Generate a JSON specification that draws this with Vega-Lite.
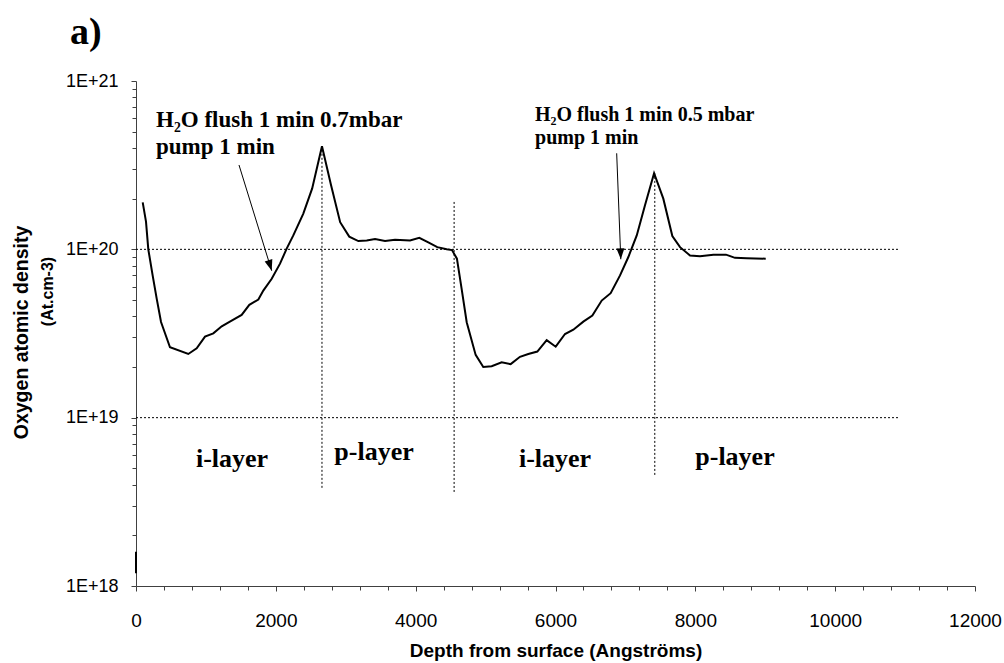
{
  "$schema": "https://vega.github.io/schema/vega-lite/v6.json",
  "width": 839,
  "height": 505,
  "autosize": {"type": "none"},
  "padding": {"left": 136, "top": 81, "right": 29, "bottom": 77},
  "background": "white",
  "config": {"view": {"stroke": null}, "font": "Liberation Sans"},
  "datasets": {
    "curve": [
      {"depth": 0, "density": 1.19e18, "series": "surface"},
      {"depth": 0, "density": 1.6e18, "series": "surface"},
      {"depth": 96, "density": 1.9e20, "series": "profile"},
      {"depth": 143, "density": 1.46e20, "series": "profile"},
      {"depth": 176, "density": 1.0e20, "series": "profile"},
      {"depth": 238, "density": 7.0e19, "series": "profile"},
      {"depth": 296, "density": 5.1e19, "series": "profile"},
      {"depth": 358, "density": 3.7e19, "series": "profile"},
      {"depth": 486, "density": 2.62e19, "series": "profile"},
      {"depth": 748, "density": 2.39e19, "series": "profile"},
      {"depth": 868, "density": 2.58e19, "series": "profile"},
      {"depth": 987, "density": 3.03e19, "series": "profile"},
      {"depth": 1106, "density": 3.17e19, "series": "profile"},
      {"depth": 1226, "density": 3.49e19, "series": "profile"},
      {"depth": 1368, "density": 3.77e19, "series": "profile"},
      {"depth": 1511, "density": 4.08e19, "series": "profile"},
      {"depth": 1621, "density": 4.68e19, "series": "profile"},
      {"depth": 1750, "density": 5.03e19, "series": "profile"},
      {"depth": 1821, "density": 5.69e19, "series": "profile"},
      {"depth": 1941, "density": 6.68e19, "series": "profile"},
      {"depth": 2060, "density": 8.22e19, "series": "profile"},
      {"depth": 2155, "density": 1.01e20, "series": "profile"},
      {"depth": 2250, "density": 1.21e20, "series": "profile"},
      {"depth": 2393, "density": 1.63e20, "series": "profile"},
      {"depth": 2520, "density": 2.3e20, "series": "profile"},
      {"depth": 2660, "density": 4.1e20, "series": "profile"},
      {"depth": 2790, "density": 2.4e20, "series": "profile"},
      {"depth": 2920, "density": 1.45e20, "series": "profile"},
      {"depth": 3050, "density": 1.19e20, "series": "profile"},
      {"depth": 3180, "density": 1.12e20, "series": "profile"},
      {"depth": 3300, "density": 1.13e20, "series": "profile"},
      {"depth": 3419, "density": 1.15e20, "series": "profile"},
      {"depth": 3562, "density": 1.12e20, "series": "profile"},
      {"depth": 3705, "density": 1.14e20, "series": "profile"},
      {"depth": 3919, "density": 1.13e20, "series": "profile"},
      {"depth": 4052, "density": 1.17e20, "series": "profile"},
      {"depth": 4181, "density": 1.1e20, "series": "profile"},
      {"depth": 4309, "density": 1.03e20, "series": "profile"},
      {"depth": 4444, "density": 1.0e20, "series": "profile"},
      {"depth": 4520, "density": 9.9e19, "series": "profile"},
      {"depth": 4590, "density": 8.8e19, "series": "profile"},
      {"depth": 4658, "density": 5.8e19, "series": "profile"},
      {"depth": 4730, "density": 3.69e19, "series": "profile"},
      {"depth": 4858, "density": 2.36e19, "series": "profile"},
      {"depth": 4967, "density": 2.0e19, "series": "profile"},
      {"depth": 5087, "density": 2.02e19, "series": "profile"},
      {"depth": 5230, "density": 2.13e19, "series": "profile"},
      {"depth": 5359, "density": 2.08e19, "series": "profile"},
      {"depth": 5492, "density": 2.3e19, "series": "profile"},
      {"depth": 5611, "density": 2.39e19, "series": "profile"},
      {"depth": 5740, "density": 2.47e19, "series": "profile"},
      {"depth": 5874, "density": 2.89e19, "series": "profile"},
      {"depth": 6003, "density": 2.64e19, "series": "profile"},
      {"depth": 6136, "density": 3.14e19, "series": "profile"},
      {"depth": 6255, "density": 3.33e19, "series": "profile"},
      {"depth": 6398, "density": 3.72e19, "series": "profile"},
      {"depth": 6527, "density": 4.04e19, "series": "profile"},
      {"depth": 6661, "density": 4.96e19, "series": "profile"},
      {"depth": 6789, "density": 5.49e19, "series": "profile"},
      {"depth": 6923, "density": 7.0e19, "series": "profile"},
      {"depth": 7042, "density": 9.0e19, "series": "profile"},
      {"depth": 7162, "density": 1.21e20, "series": "profile"},
      {"depth": 7280, "density": 1.83e20, "series": "profile"},
      {"depth": 7410, "density": 2.83e20, "series": "profile"},
      {"depth": 7542, "density": 2.0e20, "series": "profile"},
      {"depth": 7671, "density": 1.2e20, "series": "profile"},
      {"depth": 7781, "density": 1.03e20, "series": "profile"},
      {"depth": 7924, "density": 9.2e19, "series": "profile"},
      {"depth": 8067, "density": 9.1e19, "series": "profile"},
      {"depth": 8258, "density": 9.3e19, "series": "profile"},
      {"depth": 8438, "density": 9.3e19, "series": "profile"},
      {"depth": 8567, "density": 8.9e19, "series": "profile"},
      {"depth": 8734, "density": 8.85e19, "series": "profile"},
      {"depth": 9007, "density": 8.8e19, "series": "profile"}
    ],
    "hlines": [
      {"depth": 0, "depth2": 10900, "density": 1e20},
      {"depth": 0, "depth2": 10900, "density": 1e19}
    ],
    "vlines": [
      {"depth": 2660, "density": 3.83e18, "density2": 4.1e20},
      {"depth": 4550, "density": 3.62e18, "density2": 1.92e20},
      {"depth": 7420, "density": 4.57e18, "density2": 2.83e20}
    ],
    "layerlabels": [
      {"depth": 1373, "density": 5.09e18, "label": "i-layer"},
      {"depth": 3404, "density": 5.61e18, "label": "p-layer"},
      {"depth": 5993, "density": 5.09e18, "label": "i-layer"},
      {"depth": 8567, "density": 5.24e18, "label": "p-layer"}
    ],
    "panel": [
      {"depth": -944, "density": 1.65e21, "label": "a)"}
    ],
    "notes": [
      {"depth": 286, "density": 5.32e20, "label": "H₂O flush 1 min 0.7mbar", "note": "first"},
      {"depth": 286, "density": 3.68e20, "label": "pump 1 min", "note": "first"},
      {"depth": 5707, "density": 5.78e20, "label": "H₂O flush 1 min 0.5 mbar", "note": "second"},
      {"depth": 5707, "density": 4.22e20, "label": "pump 1 min", "note": "second"}
    ],
    "arrows": [
      {"depth": 1473, "density": 3.17e20, "arrow": "first", "end": "start"},
      {"depth": 1941, "density": 7.46e19, "arrow": "first", "end": "tip"},
      {"depth": 6875, "density": 3.72e20, "arrow": "second", "end": "start"},
      {"depth": 6934, "density": 8.73e19, "arrow": "second", "end": "tip"}
    ]
  },
  "layer": [
    {
      "data": {"name": "hlines"},
      "mark": {"type": "rule", "color": "black", "strokeWidth": 1, "strokeDash": [2, 2]},
      "encoding": {
        "x": {"field": "depth", "type": "quantitative", "scale": {"domain": [0, 12000], "nice": false, "zero": false},
          "axis": {"orient": "bottom", "values": [0, 2000, 4000, 6000, 8000, 10000, 12000], "format": "d", "grid": false, "domainColor": "#404040", "tickColor": "#404040", "tickSize": 5, "labelFontSize": 19, "labelColor": "black", "labelPadding": 20, "labelFlush": false,
            "title": "Depth from surface (Angströms)", "titleFontSize": 19, "titleFontWeight": "bold", "titleColor": "black", "titleBaseline": "alphabetic", "titleY": 70}},
        "x2": {"field": "depth2"},
        "y": {"field": "density", "type": "quantitative", "scale": {"type": "log", "domain": [1e18, 1e21], "nice": false},
          "axis": {"orient": "left", "values": [1e18, 1e19, 1e20, 1e21], "grid": false, "domainColor": "#404040", "tickColor": "#404040", "tickSize": 5, "labelFontSize": 18, "labelColor": "black", "labelPadding": 13, "labelExpr": "'1E+' + round(log(datum.value) / LN10)",
            "title": "Oxygen atomic density", "titleFontSize": 19.5, "titleFontWeight": "bold", "titleColor": "black", "titleAngle": 270, "titleAlign": "center", "titleBaseline": "middle", "titleX": -115, "titleY": 251}}
      }
    },
    {
      "data": {"name": "vlines"},
      "mark": {"type": "rule", "color": "black", "strokeWidth": 1, "strokeDash": [2, 2]},
      "encoding": {
        "x": {"field": "depth", "type": "quantitative", "scale": {"domain": [0, 12000], "nice": false, "zero": false},
          "axis": {"orient": "bottom", "values": [400, 800, 1200, 1600, 2400, 2800, 3200, 3600, 4400, 4800, 5200, 5600, 6400, 6800, 7200, 7600, 8400, 8800, 9200, 9600, 10400, 10800, 11200, 11600], "grid": false, "domain": false, "labels": false, "tickColor": "#404040", "tickSize": 4, "title": null}},
        "y": {"field": "density", "type": "quantitative", "scale": {"type": "log", "domain": [1e18, 1e21], "nice": false},
          "axis": {"orient": "left", "values": [2e18, 3e18, 4e18, 5e18, 6e18, 7e18, 8e18, 9e18, 2e19, 3e19, 4e19, 5e19, 6e19, 7e19, 8e19, 9e19, 2e20, 3e20, 4e20, 5e20, 6e20, 7e20, 8e20, 9e20], "grid": false, "domain": false, "labels": false, "tickColor": "#404040", "tickSize": 4,
            "title": "(At.cm-3)", "titleFontSize": 16, "titleFontWeight": "bold", "titleColor": "black", "titleAngle": 270, "titleAlign": "center", "titleBaseline": "middle", "titleX": -89, "titleY": 210}},
        "y2": {"field": "density2"}
      }
    },
    {
      "data": {"name": "curve"},
      "mark": {"type": "line", "color": "black", "strokeWidth": 2, "clip": false},
      "encoding": {
        "x": {"field": "depth", "type": "quantitative", "scale": {"domain": [0, 12000], "nice": false, "zero": false}, "axis": null},
        "y": {"field": "density", "type": "quantitative", "scale": {"type": "log", "domain": [1e18, 1e21], "nice": false}, "axis": null},
        "detail": {"field": "series", "type": "nominal"},
        "order": {"field": "depth"}
      }
    },
    {
      "data": {"name": "arrows"},
      "mark": {"type": "line", "color": "black", "strokeWidth": 1},
      "encoding": {
        "x": {"field": "depth", "type": "quantitative", "scale": {"domain": [0, 12000], "nice": false, "zero": false}, "axis": null},
        "y": {"field": "density", "type": "quantitative", "scale": {"type": "log", "domain": [1e18, 1e21], "nice": false}, "axis": null},
        "detail": {"field": "arrow", "type": "nominal"}
      }
    },
    {
      "data": {"name": "arrows"},
      "transform": [{"filter": "datum.end === 'tip' && datum.arrow === 'first'"}],
      "mark": {"type": "point", "shape": "M0,0L-1,-2.75L1,-2.75Z", "size": 64, "filled": true, "color": "black", "opacity": 1, "angle": 343},
      "encoding": {
        "x": {"field": "depth", "type": "quantitative", "scale": {"domain": [0, 12000], "nice": false, "zero": false}, "axis": null},
        "y": {"field": "density", "type": "quantitative", "scale": {"type": "log", "domain": [1e18, 1e21], "nice": false}, "axis": null}
      }
    },
    {
      "data": {"name": "arrows"},
      "transform": [{"filter": "datum.end === 'tip' && datum.arrow === 'second'"}],
      "mark": {"type": "point", "shape": "M0,0L-1,-2.75L1,-2.75Z", "size": 64, "filled": true, "color": "black", "opacity": 1, "angle": 358},
      "encoding": {
        "x": {"field": "depth", "type": "quantitative", "scale": {"domain": [0, 12000], "nice": false, "zero": false}, "axis": null},
        "y": {"field": "density", "type": "quantitative", "scale": {"type": "log", "domain": [1e18, 1e21], "nice": false}, "axis": null}
      }
    },
    {
      "data": {"name": "layerlabels"},
      "mark": {"type": "text", "font": "Liberation Serif", "fontWeight": "bold", "fontSize": 26, "align": "center", "baseline": "alphabetic", "color": "black"},
      "encoding": {
        "x": {"field": "depth", "type": "quantitative", "scale": {"domain": [0, 12000], "nice": false, "zero": false}, "axis": null},
        "y": {"field": "density", "type": "quantitative", "scale": {"type": "log", "domain": [1e18, 1e21], "nice": false}, "axis": null},
        "text": {"field": "label"}
      }
    },
    {
      "data": {"name": "panel"},
      "mark": {"type": "text", "font": "Liberation Serif", "fontWeight": "bold", "fontSize": 38, "align": "left", "baseline": "alphabetic", "color": "black", "clip": false},
      "encoding": {
        "x": {"field": "depth", "type": "quantitative", "scale": {"domain": [0, 12000], "nice": false, "zero": false}, "axis": null},
        "y": {"field": "density", "type": "quantitative", "scale": {"type": "log", "domain": [1e18, 1e21], "nice": false}, "axis": null},
        "text": {"field": "label"}
      }
    },
    {
      "data": {"name": "notes"},
      "transform": [{"filter": "datum.note === 'first'"}],
      "mark": {"type": "text", "font": "Liberation Serif", "fontWeight": "bold", "fontSize": 23, "align": "left", "baseline": "alphabetic", "color": "black"},
      "encoding": {
        "x": {"field": "depth", "type": "quantitative", "scale": {"domain": [0, 12000], "nice": false, "zero": false}, "axis": null},
        "y": {"field": "density", "type": "quantitative", "scale": {"type": "log", "domain": [1e18, 1e21], "nice": false}, "axis": null},
        "text": {"field": "label"}
      }
    },
    {
      "data": {"name": "notes"},
      "transform": [{"filter": "datum.note === 'second'"}],
      "mark": {"type": "text", "font": "Liberation Serif", "fontWeight": "bold", "fontSize": 20, "align": "left", "baseline": "alphabetic", "color": "black"},
      "encoding": {
        "x": {"field": "depth", "type": "quantitative", "scale": {"domain": [0, 12000], "nice": false, "zero": false}, "axis": null},
        "y": {"field": "density", "type": "quantitative", "scale": {"type": "log", "domain": [1e18, 1e21], "nice": false}, "axis": null},
        "text": {"field": "label"}
      }
    }
  ],
  "resolve": {"axis": {"x": "independent", "y": "independent"}}
}
